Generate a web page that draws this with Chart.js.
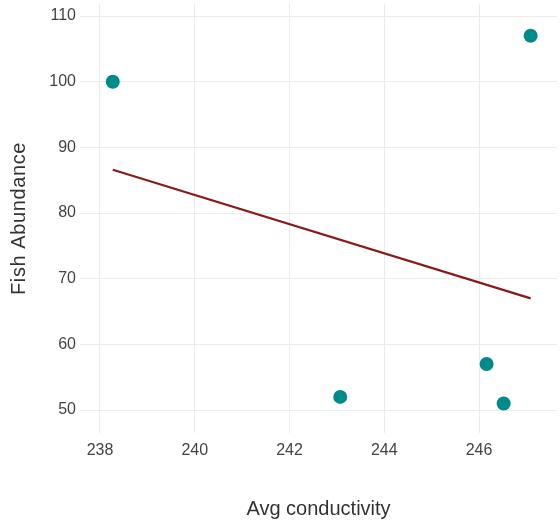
<!DOCTYPE html>
<html>
<head>
<meta charset="utf-8">
<script src="https://cdn.jsdelivr.net/npm/chart.js@4/dist/chart.umd.min.js"></script>
<style>
  html, body { margin: 0; padding: 0; background: #fff; }
  #wrap { width: 560px; height: 525px; }
</style>
</head>
<body>
<div id="wrap"><canvas id="fishChart" width="560" height="525"></canvas></div>
<script>
// === DATA ===
const conductivity = [238.27, 247.09, 243.07, 246.16, 246.52];
const abundance    = [100, 107, 52, 57, 51];
// fitted trend line (at its two ends)
const fitX = [238.27, 247.09];
const fitY = [86.6, 67.0];
const xTicks = [238, 240, 242, 244, 246];
const yTicks = [50, 60, 70, 80, 90, 100, 110];

const TEXT = '#444';
const GRID = '#ebebeb';

// the y title in the reference is a touch letter-spaced
const spacedTitle = {
    id: 'spacedTitle',
    beforeDraw(chart) {
        const s = chart.scales.y;
        if (s._spaced) return;
        const orig = s.drawTitle;
        s.drawTitle = function() {
            const ctx = this.ctx;
            const old = ctx.letterSpacing;
            ctx.letterSpacing = '0.6px';
            orig.apply(this, arguments);
            ctx.letterSpacing = old || '0px';
        };
        s._spaced = true;
    }
};

function initChart() {
    const ctx = document.getElementById('fishChart').getContext('2d');
    new Chart(ctx, {
        type: 'scatter',
        data: {
            datasets: [{
                label: 'Sites',
                data: conductivity.map((x, i) => ({ x: x, y: abundance[i] })),
                backgroundColor: '#008b8b',
                borderColor: '#008b8b',
                pointRadius: 7,
                pointHoverRadius: 7,
                borderWidth: 0
            }, {
                type: 'line',
                label: 'Trend',
                data: fitX.map((x, i) => ({ x: x, y: fitY[i] })),
                borderColor: '#8b1a1a',
                borderWidth: 2.2,
                pointRadius: 0,
                fill: false,
                tension: 0
            }]
        },
        options: {
            responsive: false,
            animation: false,
            layout: { autoPadding: false, padding: { top: 4, right: 3, left: 0, bottom: 0 } },
            plugins: { legend: { display: false }, tooltip: { enabled: false } },
            scales: {
                x: {
                    type: 'linear',
                    min: 237.578,
                    max: 247.646,
                    afterBuildTicks: s => { s.ticks = xTicks.map(v => ({ value: v })); },
                    afterFit: s => { s.height = 92; s.paddingLeft = 0; s.paddingRight = 0; },
                    grid: { color: GRID, lineWidth: 1, drawTicks: false },
                    border: { display: false },
                    ticks: { color: TEXT, padding: 8, font: { family: 'Liberation Sans', size: 16 } },
                    title: {
                        display: true,
                        text: 'Avg conductivity',
                        color: '#333',
                        padding: { top: 0, bottom: 4 },
                        font: { family: 'Liberation Sans', size: 20 }
                    }
                },
                y: {
                    min: 46.5,
                    max: 111.83,
                    afterBuildTicks: s => { s.ticks = yTicks.map(v => ({ value: v })); },
                    afterFit: s => { s.width = 80; s.paddingTop = 0; s.paddingBottom = 0; },
                    grid: { color: GRID, lineWidth: 1, drawTicks: false },
                    border: { display: false },
                    ticks: { color: TEXT, padding: 4, font: { family: 'Liberation Sans', size: 16 } },
                    title: {
                        display: true,
                        text: 'Fish Abundance',
                        color: '#333',
                        padding: { top: 7, bottom: 0 },
                        font: { family: 'Liberation Sans', size: 20 }
                    }
                }
            }
        },
        plugins: [spacedTitle]
    });
}

window.onload = initChart;
</script>
</body>
</html>
